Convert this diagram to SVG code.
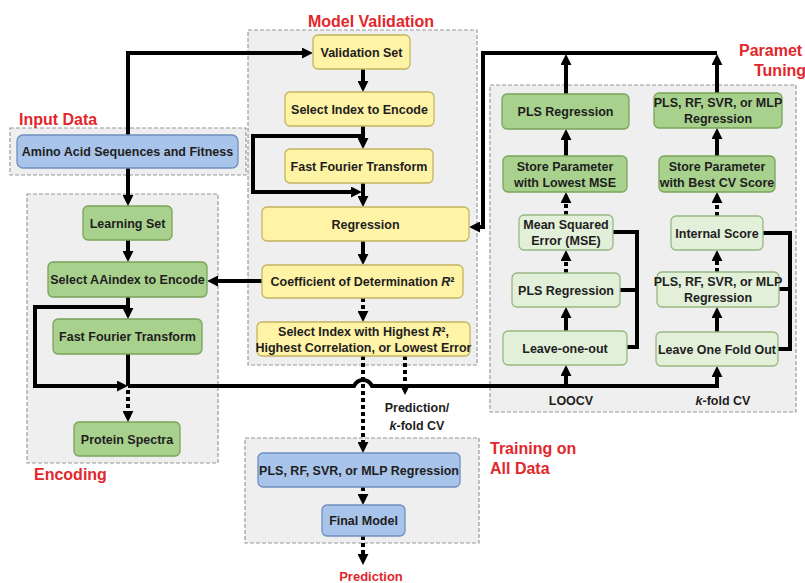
<svg xmlns="http://www.w3.org/2000/svg" width="805" height="583" viewBox="0 0 805 583">
<defs>
<marker id="arr" viewBox="0 0 10 10" refX="1" refY="5" markerWidth="11" markerHeight="11" markerUnits="userSpaceOnUse" orient="auto"><path d="M0,0 L10,5 L0,10 z" fill="#000"/></marker>
<style>
.cont{fill:#efefef;stroke:#9a9a9a;stroke-width:1.2;stroke-dasharray:4 2}
.blue{fill:#a9c4ea;stroke:#6f8fbf;stroke-width:1.3}
.green{fill:#a9d18e;stroke:#7aa35a;stroke-width:1.3}
.lgreen{fill:#e2efd9;stroke:#98b883;stroke-width:1.3}
.yellow{fill:#fff3a6;stroke:#c2b462;stroke-width:1.3}
text{font-family:"Liberation Sans",Arial,sans-serif;font-weight:bold;font-size:12.5px;fill:#1e1e1e;text-anchor:middle}
.title{fill:#e3262b;font-size:16px;text-anchor:start}
.ln{fill:none;stroke:#000;stroke-width:4}
.a{marker-end:url(#arr)}
.dot{stroke-dasharray:4 3}
</style>
</defs>
<g id="containers">
<rect class="cont" x="10" y="128" width="236" height="47"/>
<rect class="cont" x="27" y="194" width="191" height="269"/>
<rect class="cont" x="248" y="30" width="229" height="335"/>
<rect class="cont" x="490" y="85" width="306" height="327"/>
<rect class="cont" x="245" y="438" width="234" height="105"/>
</g>
<g id="titles">
<text class="title" x="19" y="125">Input Data</text>
<text class="title" x="34" y="480">Encoding</text>
<text class="title" x="371" y="27" style="text-anchor:middle">Model Validation</text>
<text class="title" x="739" y="56">Paramet</text>
<text class="title" x="754" y="76">Tuning</text>
<text class="title" x="490" y="454">Training on</text>
<text class="title" x="490" y="474">All Data</text>
<text class="title" x="371" y="581" style="text-anchor:middle;font-size:13px">Prediction</text>
</g>
<g id="connectors">
<path class="ln a" d="M128,135 V53 H303"/>
<path class="ln a" d="M128,168 V196"/>
<path class="ln a" d="M128,240 V252"/>
<path class="ln a" d="M128,297 V309"/>
<path class="ln a" d="M128,307 H35 V386 H118"/>
<path class="ln" d="M128,354 V386"/>
<path class="ln a dot" d="M128,390 V412"/>
<path class="ln a" d="M128,386 H354 Q357,380 363,380 Q369,380 372,386 H717 V376"/>
<path class="ln a" d="M566,386 V375"/>
<path class="ln a" d="M363,69 V82"/>
<path class="ln a" d="M363,126 V139"/>
<path class="ln a" d="M363,136 H253 V192 H352"/>
<path class="ln a" d="M363,183 V197"/>
<path class="ln a" d="M363,241 V255"/>
<path class="ln a dot" d="M363,298 V312"/>
<path class="ln a" d="M262,281 H217"/>
<path class="ln a dot" d="M363,356 V443"/>
<path class="ln a dot" d="M405,356 V385"/>
<path class="ln a dot" d="M363,487 V495"/>
<path class="ln a dot" d="M363,536 V555"/>
<path class="ln a" d="M566,94 V64"/>
<path class="ln a" d="M717,93 V64"/>
<path class="ln a" d="M717,53 H483 V227 H479"/>
<path class="ln a" d="M566,156 V139"/>
<path class="ln a" d="M717,156 V138"/>
<path class="ln a dot" d="M566,215 V202"/>
<path class="ln a dot" d="M717,216 V202"/>
<path class="ln a dot" d="M566,273 V260"/>
<path class="ln a dot" d="M717,272 V260"/>
<path class="ln a" d="M566,331 V317"/>
<path class="ln a" d="M717,332 V317"/>
<path class="ln" d="M613,232 H637 V347 H627 M620,290 H637"/>
<path class="ln" d="M763,233 H790 V349 H778 M779,289 H790"/>
</g>
<g id="n-amino"><rect class="blue" x="17" y="135" width="221" height="33" rx="6"/><text x="127.5" y="156">Amino Acid Sequences and Fitness</text></g>
<g id="n-learning"><rect class="green" x="83" y="206" width="89" height="34" rx="5"/><text x="127.5" y="227.5">Learning Set</text></g>
<g id="n-aaindex"><rect class="green" x="48" y="262" width="159" height="35" rx="5"/><text x="127.5" y="284">Select AAindex to Encode</text></g>
<g id="n-fft1"><rect class="green" x="53" y="319" width="149" height="35" rx="5"/><text x="127.5" y="341">Fast Fourier Transform</text></g>
<g id="n-spectra"><rect class="green" x="74" y="422" width="106" height="34" rx="5"/><text x="127" y="443.5">Protein Spectra</text></g>
<g id="n-valset"><rect class="yellow" x="313" y="35" width="97" height="34" rx="5"/><text x="361.5" y="56.5">Validation Set</text></g>
<g id="n-selidx"><rect class="yellow" x="285" y="92" width="149" height="34" rx="5"/><text x="359.5" y="113.5">Select Index to Encode</text></g>
<g id="n-fft2"><rect class="yellow" x="285" y="149" width="148" height="34" rx="5"/><text x="359" y="170.5">Fast Fourier Transform</text></g>
<g id="n-regr"><rect class="yellow" x="262" y="207" width="207" height="34" rx="5"/><text x="365.5" y="228.5">Regression</text></g>
<g id="n-coef"><rect class="yellow" x="262" y="265" width="201" height="33" rx="5"/><text x="362.5" y="286">Coefficient of Determination <tspan font-style="italic">R</tspan>²</text></g>
<g id="n-selhigh"><rect class="yellow" x="257" y="322" width="213" height="34" rx="5"/><text x="363.5" y="335.5">Select Index with Highest <tspan font-style="italic">R</tspan>²,</text><text x="363.5" y="351.5">Highest Correlation, or Lowest Error</text></g>
<g id="n-plsall"><rect class="blue" x="258" y="453" width="202" height="34" rx="5"/><text x="359" y="474.5">PLS, RF, SVR, or MLP Regression</text></g>
<g id="n-final"><rect class="blue" x="322" y="505" width="83" height="31" rx="5"/><text x="363.5" y="525">Final Model</text></g>
<g id="n-pls-top"><rect class="green" x="502" y="94" width="127" height="35" rx="5"/><text x="565.5" y="116">PLS Regression</text></g>
<g id="n-plsrf-top"><rect class="green" x="654" y="93" width="128" height="35" rx="5"/><text x="718" y="107">PLS, RF, SVR, or MLP</text><text x="718" y="123">Regression</text></g>
<g id="n-store-mse"><rect class="green" x="503" y="156" width="124" height="36" rx="5"/><text x="565" y="170.5">Store Parameter</text><text x="565" y="186.5">with Lowest MSE</text></g>
<g id="n-store-cv"><rect class="green" x="659" y="156" width="116" height="36" rx="5"/><text x="717" y="170.5">Store Parameter</text><text x="717" y="186.5">with Best CV Score</text></g>
<g id="n-mse"><rect class="lgreen" x="519" y="215" width="94" height="35" rx="5"/><text x="566" y="229">Mean Squared</text><text x="566" y="245">Error (MSE)</text></g>
<g id="n-internal"><rect class="lgreen" x="671" y="216" width="92" height="34" rx="5"/><text x="717" y="237.5">Internal Score</text></g>
<g id="n-pls-mid"><rect class="lgreen" x="512" y="273" width="108" height="34" rx="5"/><text x="566" y="294.5">PLS Regression</text></g>
<g id="n-plsrf-mid"><rect class="lgreen" x="657" y="272" width="122" height="35" rx="5"/><text x="718" y="286">PLS, RF, SVR, or MLP</text><text x="718" y="302">Regression</text></g>
<g id="n-loo"><rect class="lgreen" x="503" y="331" width="124" height="34" rx="5"/><text x="565" y="352.5">Leave-one-out</text></g>
<g id="n-lofo"><rect class="lgreen" x="656" y="332" width="122" height="34" rx="5"/><text x="717" y="353.5">Leave One Fold Out</text></g>
<g id="labels">
<text x="571" y="405">LOOCV</text>
<text x="723" y="405"><tspan font-style="italic">k</tspan>-fold CV</text>
<text x="417" y="412">Prediction/</text>
<text x="417" y="430"><tspan font-style="italic">k</tspan>-fold CV</text>
</g>
</svg>
